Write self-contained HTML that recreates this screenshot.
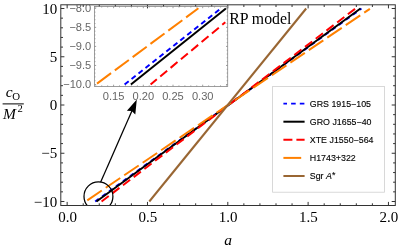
<!DOCTYPE html>
<html><head><meta charset="utf-8"><title>RP model</title>
<style>html,body{margin:0;padding:0;background:#fff;}svg{display:block;will-change:transform;}.se{font-family:"Liberation Serif",serif;}.sa{font-family:"Liberation Sans",sans-serif;}</style></head>
<body>
<svg width="399" height="251" viewBox="0 0 399 251">
<rect width="399" height="251" fill="#fff"/>
<clipPath id="mc"><rect x="60.8" y="4.8" width="334.5" height="200.7"/></clipPath>
<g clip-path="url(#mc)" fill="none" stroke-width="2">
<line x1="95.18" y1="201.50" x2="361.46" y2="8.50" stroke="#0000ff" stroke-dasharray="4.5 4.1"/>
<line x1="96.44" y1="201.50" x2="360.51" y2="8.50" stroke="#000"/>
<line x1="101.57" y1="201.50" x2="355.53" y2="8.50" stroke="#ff0000" stroke-dasharray="9 4.45"/>
<line x1="87.30" y1="200.30" x2="369.90" y2="8.80" stroke="#ff8000" stroke-dasharray="17.5 4.8"/>
<line x1="149.3" y1="201.50" x2="306.2" y2="8.50" stroke="#996633"/>
<circle cx="98.45" cy="196.4" r="14.45" stroke="#000" stroke-width="1.25"/>
</g>
<line x1="100.6" y1="182.2" x2="132.3" y2="110" stroke="#000" stroke-width="1.25"/>
<path d="M136.8 99.6 L126.9 110.7 L131.7 110.9 L135.3 114.4 Z" fill="#000"/>
<g stroke="#333" stroke-width="1" fill="none">
<rect x="60.8" y="4.8" width="334.5" height="200.7"/>
<line x1="67.15" y1="205.5" x2="67.15" y2="201.9"/>
<line x1="67.15" y1="4.8" x2="67.15" y2="8.4"/>
<line x1="83.22" y1="205.5" x2="83.22" y2="203.3"/>
<line x1="83.22" y1="4.8" x2="83.22" y2="7.0"/>
<line x1="99.28" y1="205.5" x2="99.28" y2="203.3"/>
<line x1="99.28" y1="4.8" x2="99.28" y2="7.0"/>
<line x1="115.34" y1="205.5" x2="115.34" y2="203.3"/>
<line x1="115.34" y1="4.8" x2="115.34" y2="7.0"/>
<line x1="131.41" y1="205.5" x2="131.41" y2="203.3"/>
<line x1="131.41" y1="4.8" x2="131.41" y2="7.0"/>
<line x1="147.48" y1="205.5" x2="147.48" y2="201.9"/>
<line x1="147.48" y1="4.8" x2="147.48" y2="8.4"/>
<line x1="163.54" y1="205.5" x2="163.54" y2="203.3"/>
<line x1="163.54" y1="4.8" x2="163.54" y2="7.0"/>
<line x1="179.61" y1="205.5" x2="179.61" y2="203.3"/>
<line x1="179.61" y1="4.8" x2="179.61" y2="7.0"/>
<line x1="195.67" y1="205.5" x2="195.67" y2="203.3"/>
<line x1="195.67" y1="4.8" x2="195.67" y2="7.0"/>
<line x1="211.74" y1="205.5" x2="211.74" y2="203.3"/>
<line x1="211.74" y1="4.8" x2="211.74" y2="7.0"/>
<line x1="227.80" y1="205.5" x2="227.80" y2="201.9"/>
<line x1="227.80" y1="4.8" x2="227.80" y2="8.4"/>
<line x1="243.87" y1="205.5" x2="243.87" y2="203.3"/>
<line x1="243.87" y1="4.8" x2="243.87" y2="7.0"/>
<line x1="259.93" y1="205.5" x2="259.93" y2="203.3"/>
<line x1="259.93" y1="4.8" x2="259.93" y2="7.0"/>
<line x1="276.00" y1="205.5" x2="276.00" y2="203.3"/>
<line x1="276.00" y1="4.8" x2="276.00" y2="7.0"/>
<line x1="292.06" y1="205.5" x2="292.06" y2="203.3"/>
<line x1="292.06" y1="4.8" x2="292.06" y2="7.0"/>
<line x1="308.12" y1="205.5" x2="308.12" y2="201.9"/>
<line x1="308.12" y1="4.8" x2="308.12" y2="8.4"/>
<line x1="324.19" y1="205.5" x2="324.19" y2="203.3"/>
<line x1="324.19" y1="4.8" x2="324.19" y2="7.0"/>
<line x1="340.25" y1="205.5" x2="340.25" y2="203.3"/>
<line x1="340.25" y1="4.8" x2="340.25" y2="7.0"/>
<line x1="356.32" y1="205.5" x2="356.32" y2="203.3"/>
<line x1="356.32" y1="4.8" x2="356.32" y2="7.0"/>
<line x1="372.38" y1="205.5" x2="372.38" y2="203.3"/>
<line x1="372.38" y1="4.8" x2="372.38" y2="7.0"/>
<line x1="388.45" y1="205.5" x2="388.45" y2="201.9"/>
<line x1="388.45" y1="4.8" x2="388.45" y2="8.4"/>
<line x1="60.8" y1="201.50" x2="64.39999999999999" y2="201.50"/>
<line x1="395.3" y1="201.50" x2="391.7" y2="201.50"/>
<line x1="60.8" y1="191.85" x2="63.0" y2="191.85"/>
<line x1="395.3" y1="191.85" x2="393.1" y2="191.85"/>
<line x1="60.8" y1="182.20" x2="63.0" y2="182.20"/>
<line x1="395.3" y1="182.20" x2="393.1" y2="182.20"/>
<line x1="60.8" y1="172.55" x2="63.0" y2="172.55"/>
<line x1="395.3" y1="172.55" x2="393.1" y2="172.55"/>
<line x1="60.8" y1="162.90" x2="63.0" y2="162.90"/>
<line x1="395.3" y1="162.90" x2="393.1" y2="162.90"/>
<line x1="60.8" y1="153.25" x2="64.39999999999999" y2="153.25"/>
<line x1="395.3" y1="153.25" x2="391.7" y2="153.25"/>
<line x1="60.8" y1="143.60" x2="63.0" y2="143.60"/>
<line x1="395.3" y1="143.60" x2="393.1" y2="143.60"/>
<line x1="60.8" y1="133.95" x2="63.0" y2="133.95"/>
<line x1="395.3" y1="133.95" x2="393.1" y2="133.95"/>
<line x1="60.8" y1="124.30" x2="63.0" y2="124.30"/>
<line x1="395.3" y1="124.30" x2="393.1" y2="124.30"/>
<line x1="60.8" y1="114.65" x2="63.0" y2="114.65"/>
<line x1="395.3" y1="114.65" x2="393.1" y2="114.65"/>
<line x1="60.8" y1="105.00" x2="64.39999999999999" y2="105.00"/>
<line x1="395.3" y1="105.00" x2="391.7" y2="105.00"/>
<line x1="60.8" y1="95.35" x2="63.0" y2="95.35"/>
<line x1="395.3" y1="95.35" x2="393.1" y2="95.35"/>
<line x1="60.8" y1="85.70" x2="63.0" y2="85.70"/>
<line x1="395.3" y1="85.70" x2="393.1" y2="85.70"/>
<line x1="60.8" y1="76.05" x2="63.0" y2="76.05"/>
<line x1="395.3" y1="76.05" x2="393.1" y2="76.05"/>
<line x1="60.8" y1="66.40" x2="63.0" y2="66.40"/>
<line x1="395.3" y1="66.40" x2="393.1" y2="66.40"/>
<line x1="60.8" y1="56.75" x2="64.39999999999999" y2="56.75"/>
<line x1="395.3" y1="56.75" x2="391.7" y2="56.75"/>
<line x1="60.8" y1="47.10" x2="63.0" y2="47.10"/>
<line x1="395.3" y1="47.10" x2="393.1" y2="47.10"/>
<line x1="60.8" y1="37.45" x2="63.0" y2="37.45"/>
<line x1="395.3" y1="37.45" x2="393.1" y2="37.45"/>
<line x1="60.8" y1="27.80" x2="63.0" y2="27.80"/>
<line x1="395.3" y1="27.80" x2="393.1" y2="27.80"/>
<line x1="60.8" y1="18.15" x2="63.0" y2="18.15"/>
<line x1="395.3" y1="18.15" x2="393.1" y2="18.15"/>
<line x1="60.8" y1="8.50" x2="64.39999999999999" y2="8.50"/>
<line x1="395.3" y1="8.50" x2="391.7" y2="8.50"/>
</g>
<g class="se" font-size="15" fill="#000">
<text x="67.5" y="222.4" text-anchor="middle">0.0</text>
<text x="147.8" y="222.4" text-anchor="middle">0.5</text>
<text x="228.1" y="222.4" text-anchor="middle">1.0</text>
<text x="308.4" y="222.4" text-anchor="middle">1.5</text>
<text x="388.8" y="222.4" text-anchor="middle">2.0</text>
<text x="57.2" y="13.5" text-anchor="end">10</text>
<text x="57.2" y="61.8" text-anchor="end">5</text>
<text x="57.2" y="110.0" text-anchor="end">0</text>
<text x="57.2" y="158.2" text-anchor="end">−5</text>
<text x="57.2" y="206.5" text-anchor="end">−10</text>
<text x="228.2" y="245" text-anchor="middle" font-style="italic" font-size="15.5">a</text>
<text x="229.2" y="23.7" font-size="15.8">RP model</text>
<text x="5.8" y="97.4" font-style="italic" font-size="15.5">c</text>
<text x="12.3" y="100.1" font-size="10.8">O</text>
<text x="2.9" y="119.3" font-style="italic" font-size="15.5">M</text>
<text x="17.4" y="112.4" font-size="10.6">2</text>
</g>
<line x1="2.6" y1="103.9" x2="23.8" y2="103.9" stroke="#000" stroke-width="1"/>
<g fill="none" stroke-width="2">
<line x1="124.60" y1="84.50" x2="221.10" y2="8.30" stroke="#0000ff" stroke-dasharray="5.2 3.67" stroke-dashoffset="0"/>
<line x1="130.90" y1="84.50" x2="225.90" y2="8.50" stroke="#000"/>
<line x1="150.60" y1="84.50" x2="225.30" y2="22.30" stroke="#ff0000" stroke-dasharray="9 4.45" stroke-dashoffset="0.9"/>
<line x1="97.00" y1="83.60" x2="198.40" y2="8.30" stroke="#ff8000" stroke-dasharray="17.5 4.7" stroke-dashoffset="0"/>
</g>
<g stroke="#858585" stroke-width="0.8" fill="none">
<rect x="94.45" y="6.5" width="133.25" height="79.9"/>
<line x1="95.78" y1="86.4" x2="95.78" y2="85.4"/>
<line x1="95.78" y1="6.5" x2="95.78" y2="7.5"/>
<line x1="101.72" y1="86.4" x2="101.72" y2="85.4"/>
<line x1="101.72" y1="6.5" x2="101.72" y2="7.5"/>
<line x1="107.66" y1="86.4" x2="107.66" y2="85.4"/>
<line x1="107.66" y1="6.5" x2="107.66" y2="7.5"/>
<line x1="113.60" y1="86.4" x2="113.60" y2="84.7"/>
<line x1="113.60" y1="6.5" x2="113.60" y2="8.2"/>
<line x1="119.54" y1="86.4" x2="119.54" y2="85.4"/>
<line x1="119.54" y1="6.5" x2="119.54" y2="7.5"/>
<line x1="125.48" y1="86.4" x2="125.48" y2="85.4"/>
<line x1="125.48" y1="6.5" x2="125.48" y2="7.5"/>
<line x1="131.42" y1="86.4" x2="131.42" y2="85.4"/>
<line x1="131.42" y1="6.5" x2="131.42" y2="7.5"/>
<line x1="137.36" y1="86.4" x2="137.36" y2="85.4"/>
<line x1="137.36" y1="6.5" x2="137.36" y2="7.5"/>
<line x1="143.30" y1="86.4" x2="143.30" y2="84.7"/>
<line x1="143.30" y1="6.5" x2="143.30" y2="8.2"/>
<line x1="149.24" y1="86.4" x2="149.24" y2="85.4"/>
<line x1="149.24" y1="6.5" x2="149.24" y2="7.5"/>
<line x1="155.18" y1="86.4" x2="155.18" y2="85.4"/>
<line x1="155.18" y1="6.5" x2="155.18" y2="7.5"/>
<line x1="161.12" y1="86.4" x2="161.12" y2="85.4"/>
<line x1="161.12" y1="6.5" x2="161.12" y2="7.5"/>
<line x1="167.06" y1="86.4" x2="167.06" y2="85.4"/>
<line x1="167.06" y1="6.5" x2="167.06" y2="7.5"/>
<line x1="173.00" y1="86.4" x2="173.00" y2="84.7"/>
<line x1="173.00" y1="6.5" x2="173.00" y2="8.2"/>
<line x1="178.94" y1="86.4" x2="178.94" y2="85.4"/>
<line x1="178.94" y1="6.5" x2="178.94" y2="7.5"/>
<line x1="184.88" y1="86.4" x2="184.88" y2="85.4"/>
<line x1="184.88" y1="6.5" x2="184.88" y2="7.5"/>
<line x1="190.82" y1="86.4" x2="190.82" y2="85.4"/>
<line x1="190.82" y1="6.5" x2="190.82" y2="7.5"/>
<line x1="196.76" y1="86.4" x2="196.76" y2="85.4"/>
<line x1="196.76" y1="6.5" x2="196.76" y2="7.5"/>
<line x1="202.70" y1="86.4" x2="202.70" y2="84.7"/>
<line x1="202.70" y1="6.5" x2="202.70" y2="8.2"/>
<line x1="208.64" y1="86.4" x2="208.64" y2="85.4"/>
<line x1="208.64" y1="6.5" x2="208.64" y2="7.5"/>
<line x1="214.58" y1="86.4" x2="214.58" y2="85.4"/>
<line x1="214.58" y1="6.5" x2="214.58" y2="7.5"/>
<line x1="220.52" y1="86.4" x2="220.52" y2="85.4"/>
<line x1="220.52" y1="6.5" x2="220.52" y2="7.5"/>
<line x1="226.46" y1="86.4" x2="226.46" y2="85.4"/>
<line x1="226.46" y1="6.5" x2="226.46" y2="7.5"/>
<line x1="94.45" y1="84.50" x2="96.15" y2="84.50"/>
<line x1="227.7" y1="84.50" x2="226.0" y2="84.50"/>
<line x1="94.45" y1="80.69" x2="95.45" y2="80.69"/>
<line x1="227.7" y1="80.69" x2="226.7" y2="80.69"/>
<line x1="94.45" y1="76.88" x2="95.45" y2="76.88"/>
<line x1="227.7" y1="76.88" x2="226.7" y2="76.88"/>
<line x1="94.45" y1="73.07" x2="95.45" y2="73.07"/>
<line x1="227.7" y1="73.07" x2="226.7" y2="73.07"/>
<line x1="94.45" y1="69.26" x2="95.45" y2="69.26"/>
<line x1="227.7" y1="69.26" x2="226.7" y2="69.26"/>
<line x1="94.45" y1="65.45" x2="96.15" y2="65.45"/>
<line x1="227.7" y1="65.45" x2="226.0" y2="65.45"/>
<line x1="94.45" y1="61.64" x2="95.45" y2="61.64"/>
<line x1="227.7" y1="61.64" x2="226.7" y2="61.64"/>
<line x1="94.45" y1="57.83" x2="95.45" y2="57.83"/>
<line x1="227.7" y1="57.83" x2="226.7" y2="57.83"/>
<line x1="94.45" y1="54.02" x2="95.45" y2="54.02"/>
<line x1="227.7" y1="54.02" x2="226.7" y2="54.02"/>
<line x1="94.45" y1="50.21" x2="95.45" y2="50.21"/>
<line x1="227.7" y1="50.21" x2="226.7" y2="50.21"/>
<line x1="94.45" y1="46.40" x2="96.15" y2="46.40"/>
<line x1="227.7" y1="46.40" x2="226.0" y2="46.40"/>
<line x1="94.45" y1="42.59" x2="95.45" y2="42.59"/>
<line x1="227.7" y1="42.59" x2="226.7" y2="42.59"/>
<line x1="94.45" y1="38.78" x2="95.45" y2="38.78"/>
<line x1="227.7" y1="38.78" x2="226.7" y2="38.78"/>
<line x1="94.45" y1="34.97" x2="95.45" y2="34.97"/>
<line x1="227.7" y1="34.97" x2="226.7" y2="34.97"/>
<line x1="94.45" y1="31.16" x2="95.45" y2="31.16"/>
<line x1="227.7" y1="31.16" x2="226.7" y2="31.16"/>
<line x1="94.45" y1="27.35" x2="96.15" y2="27.35"/>
<line x1="227.7" y1="27.35" x2="226.0" y2="27.35"/>
<line x1="94.45" y1="23.54" x2="95.45" y2="23.54"/>
<line x1="227.7" y1="23.54" x2="226.7" y2="23.54"/>
<line x1="94.45" y1="19.73" x2="95.45" y2="19.73"/>
<line x1="227.7" y1="19.73" x2="226.7" y2="19.73"/>
<line x1="94.45" y1="15.92" x2="95.45" y2="15.92"/>
<line x1="227.7" y1="15.92" x2="226.7" y2="15.92"/>
<line x1="94.45" y1="12.11" x2="95.45" y2="12.11"/>
<line x1="227.7" y1="12.11" x2="226.7" y2="12.11"/>
<line x1="94.45" y1="8.30" x2="96.15" y2="8.30"/>
<line x1="227.7" y1="8.30" x2="226.0" y2="8.30"/>
</g>
<g class="sa" font-size="11.1" fill="#666">
<text x="113.6" y="99.9" text-anchor="middle">0.15</text>
<text x="143.3" y="99.9" text-anchor="middle">0.20</text>
<text x="173.0" y="99.9" text-anchor="middle">0.25</text>
<text x="202.7" y="99.9" text-anchor="middle">0.30</text>
<text x="91.3" y="12.2" text-anchor="end">−8.0</text>
<text x="91.3" y="31.2" text-anchor="end">−8.5</text>
<text x="91.3" y="50.3" text-anchor="end">−9.0</text>
<text x="91.3" y="69.4" text-anchor="end">−9.5</text>
<text x="91.3" y="88.4" text-anchor="end">−10.0</text>
</g>
<rect x="272.6" y="86.4" width="111.8" height="105.8" fill="#fff" stroke="#cfcfcf" stroke-width="0.8"/>
<g class="sa" font-size="8.85" fill="#000" stroke="#000" stroke-width="0.12">
<line x1="283.4" y1="103.6" x2="304.6" y2="103.6" stroke="#0000ff" stroke-width="1.8" stroke-dasharray="4.6 4.1" stroke-dashoffset="1.0"/>
<text x="309.8" y="106.8">GRS 1915−105</text>
<line x1="283.4" y1="121.7" x2="304.6" y2="121.7" stroke="#000" stroke-width="2"/>
<text x="309.8" y="124.9">GRO J1655−40</text>
<line x1="283.4" y1="139.8" x2="304.6" y2="139.8" stroke="#ff0000" stroke-width="2" stroke-dasharray="9 4"/>
<text x="309.8" y="143.0">XTE J1550−564</text>
<line x1="283.4" y1="157.9" x2="304.6" y2="157.9" stroke="#ff8000" stroke-width="2" stroke-dasharray="17.8 6"/>
<text x="309.8" y="161.1">H1743+322</text>
<line x1="283.4" y1="176.0" x2="304.6" y2="176.0" stroke="#996633" stroke-width="2"/>
<text x="309.8" y="179.2">Sgr <tspan font-style="italic">A</tspan><tspan dy="-1.2">*</tspan></text>
</g>
</svg>
</body></html>
